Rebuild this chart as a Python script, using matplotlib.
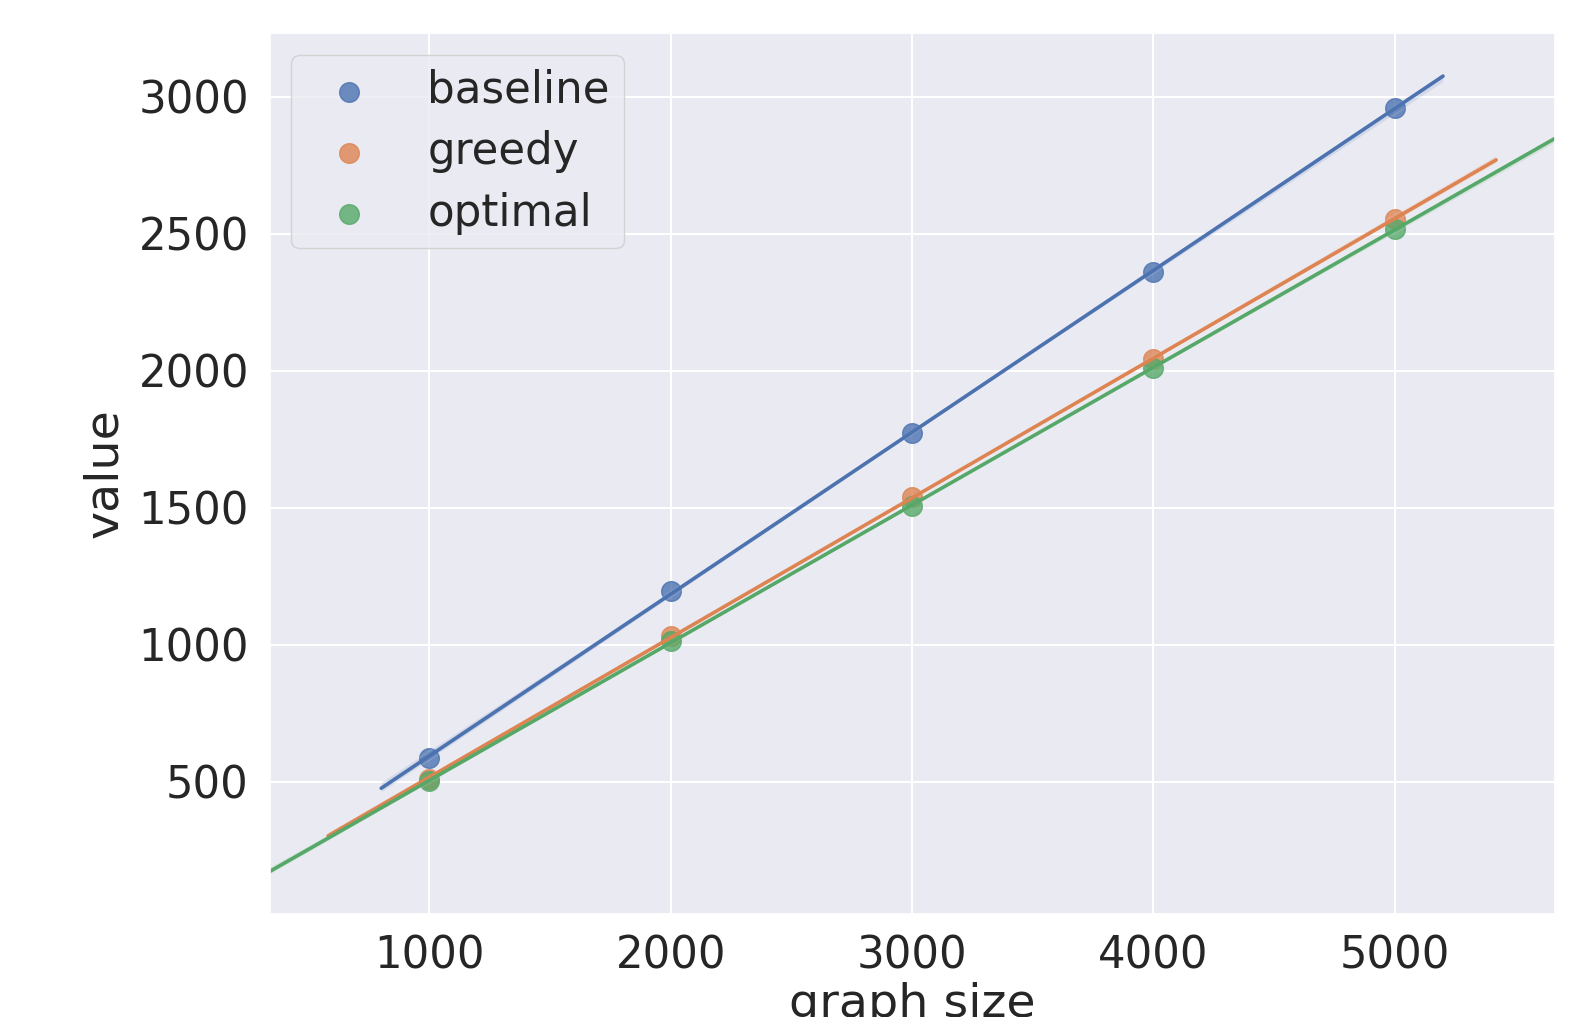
import matplotlib
matplotlib.use("Agg")
import matplotlib.pyplot as plt
import pandas as pd
import seaborn as sns

#values
graph_size = [1000, 2000, 3000, 4000, 5000]
baseline = [589, 1198, 1773, 2361, 2960]
greedy = [512, 1034, 1539, 2043, 2555]
optimal = [502, 1016, 1508, 2010, 2516]

#long table for plotting
df = pd.DataFrame({"graph size": graph_size * 3,
                   "value": baseline + greedy + optimal,
                   "method": ["baseline"] * 5 + ["greedy"] * 5 + ["optimal"] * 5})

sns.set_theme(style="darkgrid", font_scale=2.85)
plt.rcParams["grid.linewidth"] = 1.5

fig = plt.figure(figsize=(15.96, 10.17), dpi=100)
ax = fig.add_axes([0.169, 0.1013, 0.805, 0.866])

#one regression per method, lines run to the current axis limits
for method in ["baseline", "greedy", "optimal"]:
    sub = df[df["method"] == method]
    sns.regplot(data=sub, x="graph size", y="value", ax=ax, label=method,
                truncate=False, seed=0,
                scatter_kws={"s": 200}, line_kws={"linewidth": 2.6})
    #let the next fit widen the view like older seaborn did
    if method != "optimal":
        for line in ax.lines:
            line.sticky_edges.x.clear()

ax.set_yticks([500, 1000, 1500, 2000, 2500, 3000])
ax.set_xticks([1000, 2000, 3000, 4000, 5000])
ax.tick_params(axis="y", pad=9)
ax.tick_params(axis="x", pad=9)
ax.set_xlabel("graph size", labelpad=3)
ax.set_ylabel("value", labelpad=8)
ax.legend(loc="upper left", labelspacing=0.42, borderpad=0.32)

plt.savefig("out.png", dpi=100)
